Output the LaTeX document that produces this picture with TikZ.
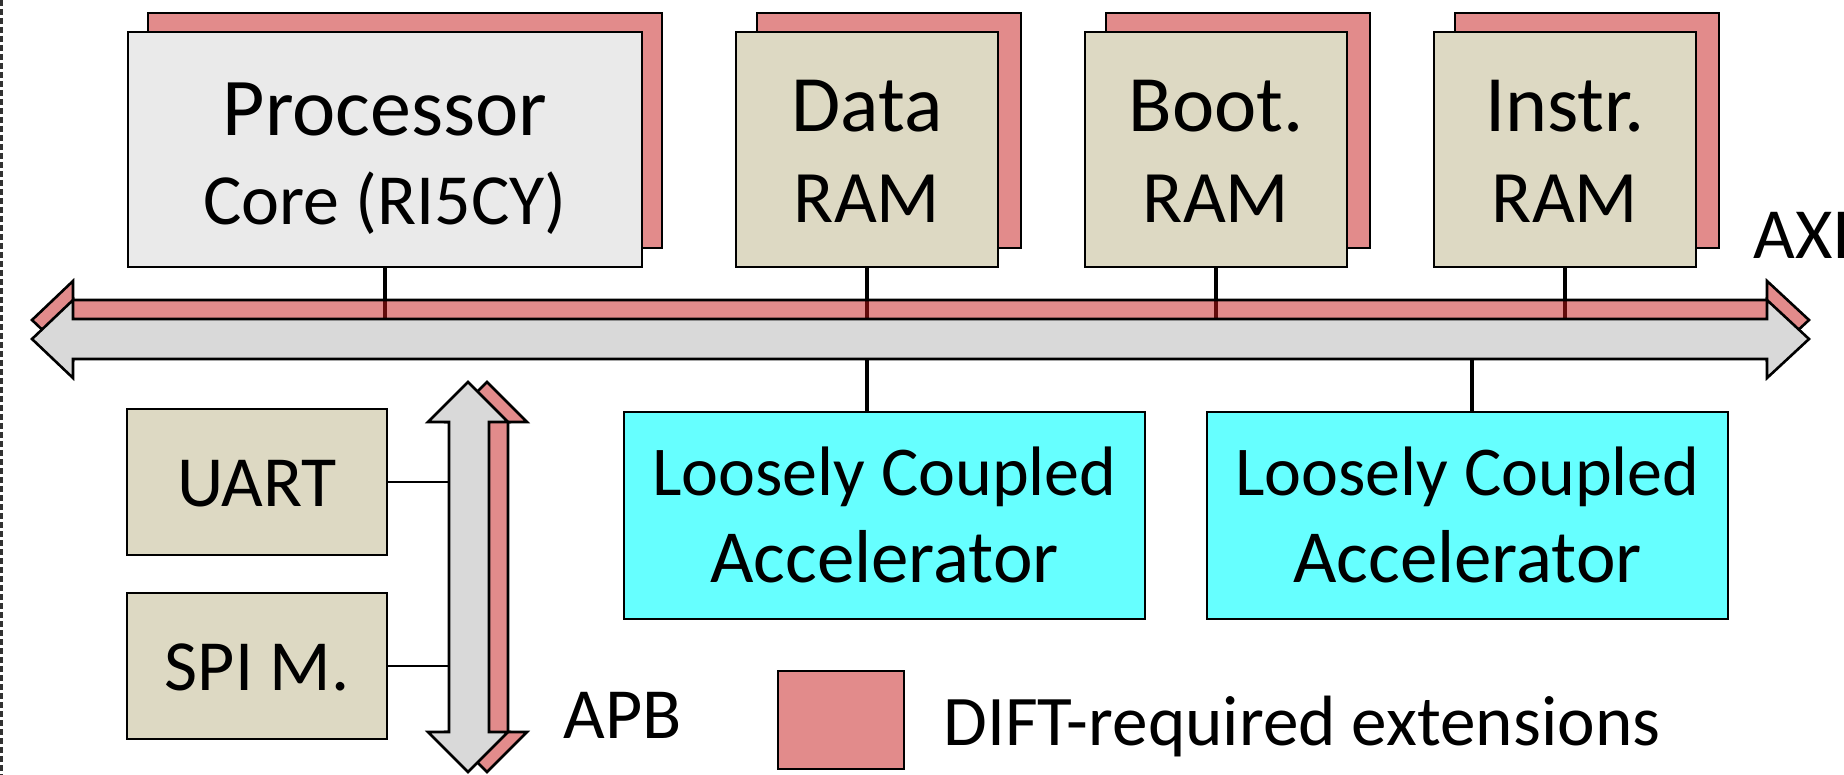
\documentclass[tikz,border=0pt]{standalone}
\usepackage{fontspec}
\setmainfont{Carlito}
\definecolor{dift}{RGB}{226,139,139}
\definecolor{diftbase}{RGB}{197,23,23}
\definecolor{cpu}{RGB}{234,234,234}
\definecolor{mem}{RGB}{221,217,195}
\definecolor{busgrey}{RGB}{217,217,217}
\definecolor{accel}{RGB}{102,255,255}
\definecolor{frame}{RGB}{50,50,50}

\begin{document}
\begin{tikzpicture}[x=0.5pt,y=-0.5pt,
  blk/.style={draw=black, line width=1.3pt, inner sep=0pt, outer sep=0pt},
  ext/.style={blk, fill=dift},
  cpubox/.style={blk, fill=cpu, minimum width=257pt, minimum height=117.5pt},
  rambox/.style={blk, fill=mem, minimum width=131pt, minimum height=117.5pt},
  extcpu/.style={ext, minimum width=257pt, minimum height=117.5pt},
  extram/.style={ext, minimum width=132pt, minimum height=117.5pt},
  accbox/.style={blk, fill=accel, minimum width=260.5pt, minimum height=103.5pt},
  periph/.style={blk, fill=mem, minimum width=130pt, minimum height=73pt},
  lbl/.style={inner sep=0pt, anchor=base, font=\fontsize{36}{43}\selectfont},
  bigl/.style={lbl, font=\fontsize{40}{48}\selectfont},
  secl/.style={lbl, font=\fontsize{37}{44}\selectfont},
  tap/.style={draw=black, line width=2pt},
  thin/.style={draw=black, line width=0.9pt},
  busline/.style={draw=black, line width=1.3pt, line join=miter},
]
\useasboundingbox (0,0) rectangle (1844,775);
\clip (0,0) rectangle (1844,775);

% outer frame (dashed, left side)
\draw[frame, line width=1.1pt, dash pattern=on 3pt off 1.5pt] (1.5,0) -- (1.5,775);

% helper coordinates on the AXI bus
\coordinate (axitop) at (0,319);
\coordinate (axibot) at (0,359);
\coordinate (tap2) at (1472,359);
\coordinate (apbleft) at (449,0);

% DIFT extension layers behind the top blocks
\node[extcpu] (procx) at (405,130.5) {};
\node[extram] (dramx) at (889,130.5) {};
\node[extram] (bramx) at (1238,130.5) {};
\node[extram] (iramx) at (1587,130.5) {};

% top blocks
\node[cpubox] (proc) at (385,149.5) {};
\node[rambox] (dram) at (867,149.5) {};
\node[rambox] (bram) at (1216,149.5) {};
\node[rambox] (iram) at (1565,149.5) {};

\node[lbl, font=\fontsize{41}{49}\selectfont] (proct1) at (385,136) {Processor};
\node[lbl, font=\fontsize{36}{43}\selectfont] (proct2) at (385,225) {Core (RI5CY)};
\node[bigl] (dramt1) at (867,132) {Data};
\node[secl] (dramt2) at (867,223) {RAM};
\node[bigl] (bramt1) at (1216,132) {Boot.};
\node[secl] (bramt2) at (1216,223) {RAM};
\node[bigl] (iramt1) at (1565,132) {Instr.};
\node[secl] (iramt2) at (1565,223) {RAM};

% taps from the blocks into the bus
\draw[tap] (proc.south) -- (proc.south |- axitop);
\draw[tap] (dram.south) -- (dram.south |- axitop);
\draw[tap] (bram.south) -- (bram.south |- axitop);
\draw[tap] (iram.south) -- (iram.south |- axitop);

% AXI bus: DIFT layer, then the bus itself
\begin{scope}[shift={(0,-19)}]
  \draw[busline, fill=diftbase, fill opacity=0.5]
    (32,339) -- (73,300) -- (73,319) -- (1767,319) -- (1767,300) -- (1809,339)
    -- (1767,378) -- (1767,359) -- (73,359) -- (73,378) -- cycle;
\end{scope}
\draw[busline, fill=busgrey]
  (32,339) -- (73,300) -- (73,319) -- (1767,319) -- (1767,300) -- (1809,339)
  -- (1767,378) -- (1767,359) -- (73,359) -- (73,378) -- cycle;
\node[lbl, anchor=base west] (axi) at (1753,259) {AXI};

% accelerators
\node[accbox] (acc1) at (884.5,515.5) {};
\node[accbox] (acc2) at (1467.5,515.5) {};
\node[lbl, font=\fontsize{35}{42}\selectfont] (acc1t1) at (884.5,495) {Loosely Coupled};
\node[lbl, font=\fontsize{37.5}{45}\selectfont] (acc1t2) at (884.5,582) {Accelerator};
\node[lbl, font=\fontsize{35}{42}\selectfont] (acc2t1) at (1467.5,495) {Loosely Coupled};
\node[lbl, font=\fontsize{37.5}{45}\selectfont] (acc2t2) at (1467.5,582) {Accelerator};
\draw[tap] (dram.south |- axibot) -- (dram.south |- acc1.north);
\draw[tap] (tap2) -- (tap2 |- acc2.north);

% peripherals
\node[periph] (uart) at (257,482) {};
\node[periph] (spi) at (257,666) {};
\node[lbl] (uartt) at (257,507) {UART};
\node[lbl] (spit) at (257,690) {SPI M.};
\draw[thin] (uart.east) -- (uart.east -| apbleft);
\draw[thin] (spi.east) -- (spi.east -| apbleft);

% APB bus: DIFT layer, then the bus itself
\begin{scope}[shift={(19,0)}]
  \draw[busline, fill=dift]
    (468,382) -- (508,422) -- (489,422) -- (489,732) -- (508,732) -- (468,772)
    -- (428,732) -- (449,732) -- (449,422) -- (428,422) -- cycle;
\end{scope}
\draw[busline, fill=busgrey]
  (468,382) -- (508,422) -- (489,422) -- (489,732) -- (508,732) -- (468,772)
  -- (428,732) -- (449,732) -- (449,422) -- (428,422) -- cycle;
\node[lbl, anchor=base west] (apb) at (563,738) {APB};

% legend
\node[ext, minimum width=63pt, minimum height=49pt] (key) at (841,720) {};
\node[lbl, anchor=base west, font=\fontsize{35.6}{43}\selectfont] (keyt) at (943,745) {DIFT-required extensions};
\end{tikzpicture}
\end{document}
